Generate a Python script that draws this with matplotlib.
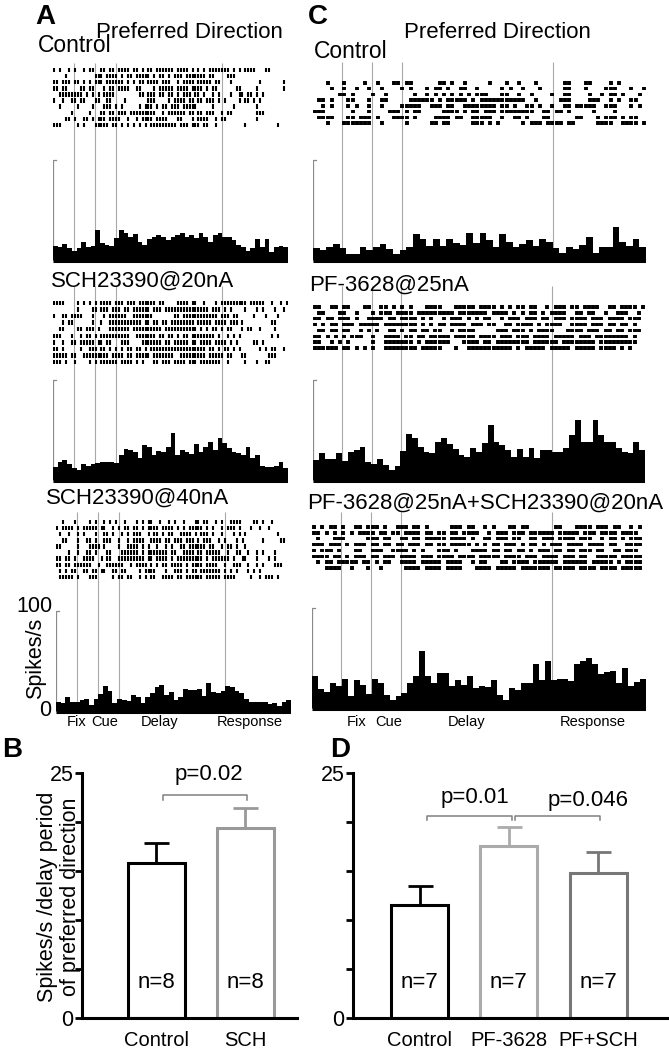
import numpy as np
import matplotlib
matplotlib.use('Agg')
import matplotlib.pyplot as plt

plt.rcParams['font.family'] = ['Liberation Sans', 'DejaVu Sans']

# ---------------- data ----------------
# task events (fraction of the trial time axis): fix, cue, delay, response
events = [0.088, 0.177, 0.266, 0.72]

# raster rows: '|' = spike in that column (80 columns across the trial)
A_top_rows = [
    "|.|..|.|..|.||..||.||.||||.||.|.||.||||||.||||.|.|.|.|||||||.|.|.||||...||.....",
    "....|.........|||.||||.|.||.|||||.|.||.|.|||.|||||||.||....|||..................",
    "||.|||.||.|.|.|||.||||||.|.|.||.||||.|||..|.||||.|||||.||...|.........|.......|",
    "||.||....||.||...|.||.||||..||....|.|||||.||||.||||.|.||......||.....|........|",
    "..||||||||.|.|.|.||||........||.|||.||.||.|.|||.||.|..|.|...|..||.||.|.|.......",
    "|..|..||.||...||..||....|.......|||....|.||||.||.||.|||.|.|....|.||.|.|........",
    "..|.....|....|...|||.|.|.....|.|||.|.||.|||.|||||.....|......|.......|.........",
    "......|.....|...||.||.|||.|||||||||..|.||||||.||.||.|||..|.||........|||.......",
    "....||.|..||.|.|||.||||..|..|.||||.||||...||...|.||||..|.||..........|.........",
    "|||.....|.|...|||||.||.|.|.|.|.|.|||||||||.|||.|||.||..|.........|..........|..",
]
A_mid_rows = [
    "||||....|.|.|.|.||||.|||.|||.||||||.||....||||.||..|...|.|||||||||.|||||..|..|.|",
    "........|....||.|||.|||.||.||||||.|||.|||||||||||||||.|||.|.|....|...|.|...|..|",
    "|..||.||||...|...|.||||||..|||||||.......||.||||||||||||.|||.||.....|...|...|..",
    "...|.||......|..|..|||||||||||.||.||.||.||||||||.|||||.||||.|||.|.........||...",
    "..||....||.|||.|...|||||||.||||||||||.|||||||||||.|.|.||.|.||...|.||..|....|...",
    "|||...|..|.||.|.||||||||||..|||||||.||.||.|.||.||||||||.|..|.|.|..........|.|..",
    "|..|..||.|||||.||.||...|||....|||||||.||.|||||.||.||||.||||.|.|.....||.|.......",
    "||.|.....|..|||.||.|.|.|.||.||.|.|||||||||||||||||||.||.|.||.|.|......|.|.||..|",
    "|||||.||..|||||||||.||||.||.|||||.|||||||..|||||||||.|||||.||...||.......|||...",
    "|||.|..|....|.|.||||||.||||.|.|...||.|||.||||.|||.|||||||..|.....|...|..||.....",
]
A_bot_rows = [
    "..|...|....|.|..|.|.|..|...|.|.||..|..|.|..|...||.||..|.|..||||....||.|..|.....",
    "|.||||.|.|||||.||..|.|.||.||.|.||||.||||.|.|.|||||.|.|..|.|||.|...|..|..|......",
    ".|..|..|.|...|..||.|..|.|.|||..|.||.|.||..||||.|.|||.|..|...|.|.|..........|...",
    "..||...|..||.|..|||..|..|.||||..||||.||.|||.|||.|.|||..|.|...|.|......|.....||.",
    "||.....|...||||.|....|..||||.|.|..|..|.|..||.||||||.||..|.||.|..|..............",
    "....|..|..||.|...||...||||||.|.|||||||.||..||||.||.|||||..|..||..|..|.|...|....",
    "||.||.|..||||..|.||..|||||||||.||.||||.|.|||||||||.|.||||||.|..||...|...|.|....",
    "||.||.||||||..|..||||||..|.||||.|.|.||.||||.|.||||.||||..|..|||..|..|.|...|||..",
    ".|.|.||..||.||.||..||.||....|.||||...|..|||.|.||.|||||||.|.|.|...|.|.|........",
    ".|||||.|...|||.....|.||.||..|.|.||..||||.||.||||||.|||||.||||.....|..|.|||.|...",
]
C_top_rows = [
    "...|...|....|..|...||.||......||.|..|.....|...|..|...|......||...||....|.|......",
    "....|..|..|..|..|....|.|...|.||.|..||..|.....|.|..|...|.....||...|....|||...|..|",
    "......||.|....|..|......|..|.|.|.|.|.|.|||...||..|..|....|..||....|..|.||.|...|.",
    ".||.|...||...|..||.....||||||.|.|||||.|.|||||||||||..|.....|||....|||..|.|..||..",
    "..|.|...|.|..|..|....|||||..|||.||..||||||||.||.|..||.|..|..||.|||||..|||...|.|.",
    "|||......|...|....|||.|.||.....||||.|.||.|||.||||||||..||.||.|.....|....|.......",
    ".||||...||.|||.|...||||.|....||||.||..|||||..|..||.|...||......||...|.|||.|.||..",
    "...|...|||||||..|.....|.....||.||.....|||.|.|.....|.|||.||||.||.....||||..||||.|",
]
C_mid_rows = [
    "||..||.||...||..||.|.|.|...||||...|||||.||||.|.|.||.||..|.|||.||.||||..||.||||.|",
    ".||...||..|...|.|||.||||.|||||||||.|||||||.||||.|.|.||.|.||||..||.||..|..|||..|",
    "||.||.|||.|..||||.||.||||.|.|..|.|||.|.|.||..|.|||.|||.||.|||.||||.|||.||||.|||",
    "|.|.||.|||.|||||.||||||||.|.|.||.||||.|||.||..||.||||.|.||||..||||.|||.||.||.|.",
    ".||.||.||..|.|.|..||.|.||.||.||..|.||||.....|||.|||.|.||||...||||.|||.||.||.|||",
    "||.|.|.|.|||..|..||||.||.||.|||||.|||||.||||.|||.|||.||||.|||||.|||.||||||||.|.",
    "||..|.|.|.....|..|||||||.|.||||||...||||.||.||||||||.||||||.||||||||.|||||||||.",
    "||||||.||.|.|.|..||||||||.|||||...|..|||||||||||.|.|||||.|||||.|||||.||||.|.|.",
]
C_bot_rows = [
    "|.|.||.|..||.|||.|..|||.||.|.....|||.||..|.|...||.||......||...||||.|||.||..|.|.",
    "||.|.|.|.|.||||.||.||.||||.||.||.||.||||..|.|||.|||.||||||.|||||.|||.||||.||||",
    ".|...|||.....|||.||..||.||.|||||.||||.|..||.|||.||..||.|||.||||.|||..|.||.|.|||",
    "|||.|||.|.|||.||.||.||.|||.||.||.|||||.|.|.||.|||.|.||.|.|||.||||.||||.||..||||",
    "|.|||.|...||..|||..||||.|.|...|||.|...||||.||.||.||.|.|||.||.||.|||.||..||.|||.",
    "||||.||.|.|||.||.|||.||||.|||.||||.||||.|||||.||||.|||.||||.|||.||..|||||.|||||",
    ".|.||.|||||.||.|.||..||||.|||||.||||..|.||...||.||||.||||||.||||||.|||||.|.||||.",
    "...||||..|...|..|.....||||.||||.||||...||||.|||||.|||||||.|||||.||||.||||.|||||",
]

# peri-stimulus time histograms (spikes/s)
A_top_rate = [14, 13, 16, 12, 9, 12, 18, 13, 14, 30, 17, 15, 14, 22, 30, 27, 23, 26, 18, 15,
              21, 23, 25, 23, 20, 23, 25, 27, 23, 25, 22, 27, 23, 18, 25, 27, 23, 23, 20, 15,
              13, 9, 12, 21, 13, 21, 8, 13, 14, 13]
A_mid_rate = [13, 18, 20, 16, 12, 10, 16, 14, 16, 17, 18, 18, 18, 17, 25, 31, 30, 28, 22, 35,
              33, 25, 29, 28, 33, 47, 25, 30, 28, 26, 36, 28, 33, 38, 30, 42, 37, 32, 28, 27,
              25, 33, 22, 25, 14, 13, 13, 14, 18, 12]
A_bot_rate = [9, 8, 14, 9, 9, 11, 12, 6, 12, 17, 25, 20, 8, 12, 11, 10, 16, 14, 8, 14,
              18, 24, 26, 16, 19, 11, 14, 22, 21, 21, 22, 15, 28, 19, 18, 20, 25, 24, 20, 18,
              12, 9, 9, 9, 9, 7, 8, 5, 9, 11]
C_top_rate = [12, 10, 13, 16, 12, 6, 6, 13, 10, 13, 16, 11, 6, 10, 13, 26, 21, 14, 21, 14,
              21, 17, 15, 27, 17, 27, 20, 13, 26, 18, 13, 16, 20, 14, 21, 18, 12, 7, 13, 11,
              15, 23, 7, 13, 13, 33, 18, 14, 21, 13]
C_mid_rate = [20, 27, 21, 21, 27, 19, 28, 30, 33, 18, 16, 21, 15, 10, 14, 29, 46, 42, 33, 28,
              27, 38, 42, 36, 31, 25, 23, 32, 28, 37, 55, 38, 35, 30, 23, 31, 23, 32, 22, 30,
              30, 28, 28, 32, 45, 60, 38, 38, 60, 45, 38, 38, 32, 28, 27, 38, 30]
C_bot_rate = [32, 19, 16, 25, 22, 29, 12, 28, 23, 14, 29, 25, 13, 8, 12, 15, 25, 32, 57, 32,
              25, 35, 35, 22, 28, 23, 32, 20, 22, 21, 28, 13, 8, 20, 18, 25, 25, 44, 28, 47,
              28, 29, 29, 27, 44, 47, 50, 44, 34, 36, 37, 25, 40, 22, 26, 29]

# delay-period firing (panel B and D)
B_labels = ['Control', 'SCH']
B_means = [15.8, 19.4]
B_sems = [2.1, 2.0]
B_n = [8, 8]
D_labels = ['Control', 'PF-3628', 'PF+SCH']
D_means = [11.5, 17.6, 14.8]
D_sems = [2.0, 1.9, 2.1]
D_n = [7, 7, 7]

# ---------------- figure ----------------
W, H = 669, 1050
fig = plt.figure(figsize=(W / 100, H / 100), dpi=100)


def box(left, top, right, bottom):
    # pixel box -> figure fraction
    return [left / W, 1 - bottom / H, (right - left) / W, (bottom - top) / H]


def put(x, y, s, **kw):
    fig.text(x / W, 1 - y / H, s, **kw)


def psth_panel(left, right, base, top, r_top, r_bot, rows, rate, tick_w, tick_h):
    ax = fig.add_axes(box(left, top, right, base + 4))
    ax.set_xlim(0, 1)
    ax.set_ylim(-4, base - top)
    ax.axis('off')
    # event markers
    ax.vlines(events, 0, base - top, color='#a8a8a8', lw=0.8, zorder=1)
    # raster
    n = len(rows)
    for i, row in enumerate(rows):
        y = base - (r_top + i * (r_bot - r_top) / (n - 1))
        xs = [(j + 0.5) / 80 for j, ch in enumerate(row) if ch == '|']
        ax.vlines(xs, y - tick_h / 2, y + tick_h / 2, color='black', lw=tick_w, zorder=2)
    # histogram
    edges = np.linspace(0, 1, len(rate) + 1)
    ax.stairs(rate, edges, fill=True, color='black', zorder=2)
    ax.plot([0, 1], [-1.2, -1.2], color='black', lw=2.2, solid_capstyle='butt', zorder=3)
    # scale bar (100 spikes/s)
    dx = 3 / (right - left)
    ax.plot([0, 0, dx], [0, 100, 100], color='#8a8a8a', lw=0.9, zorder=1)
    return ax


# panel A
psth_panel(53, 288, 260, 63, 70, 125, A_top_rows, A_top_rate, 1.5, 4.5)
psth_panel(53, 288, 480, 286, 303, 362, A_mid_rows, A_mid_rate, 1.5, 4.5)
psth_panel(56, 291, 711, 512, 522, 577, A_bot_rows, A_bot_rate, 1.5, 4.5)
# panel C
psth_panel(313, 646, 260, 62, 83, 123, C_top_rows, C_top_rate, 2.8, 3.5)
psth_panel(313, 645, 480, 286, 307, 348, C_mid_rows, C_mid_rate, 2.8, 3.5)
psth_panel(312, 646, 708, 512, 527, 568, C_bot_rows, C_bot_rate, 2.8, 3.5)

# texts of A / C
put(45, 17, 'A', fontsize=20, fontweight='bold', ha='center', va='center')
put(318, 17, 'C', fontsize=20, fontweight='bold', ha='center', va='center')
put(189, 32, 'Preferred Direction', fontsize=16, ha='center', va='center')
put(497, 32, 'Preferred Direction', fontsize=16, ha='center', va='center')
put(38, 46, 'Control', fontsize=16.5, ha='left', va='center')
put(314, 52, 'Control', fontsize=16.5, ha='left', va='center')
put(51, 281, 'SCH23390@20nA', fontsize=16, ha='left', va='center')
put(46, 498, 'SCH23390@40nA', fontsize=16, ha='left', va='center')
put(309, 285, 'PF-3628@25nA', fontsize=16, ha='left', va='center')
put(307, 503, 'PF-3628@25nA+SCH23390@20nA', fontsize=16, ha='left', va='center')

put(36, 658, 'Spikes/s', fontsize=15.5, rotation=90, ha='center', va='center')
put(53, 607, '100', fontsize=15.5, ha='right', va='center')
put(51, 710, '0', fontsize=15.5, ha='right', va='center')

for x, s in zip([77, 105, 160, 250], ['Fix', 'Cue', 'Delay', 'Response']):
    put(x, 722, s, fontsize=10.5, ha='center', va='center')
for x, s in zip([357, 389, 467, 593], ['Fix', 'Cue', 'Delay', 'Response']):
    put(x, 722, s, fontsize=10.5, ha='center', va='center')


# bar charts
def bar_panel(rect, xlim, labels, means, sems, colors, ns):
    ax = fig.add_axes(box(*rect))
    x = np.arange(len(means))
    for xi, m, s, c, n in zip(x, means, sems, colors, ns):
        ax.bar(xi, m, width=0.64, facecolor='white', edgecolor=c, linewidth=2.2, zorder=2)
        ax.errorbar(xi, m, yerr=[[0], [s]], fmt='none', ecolor=c, elinewidth=2.0,
                    capsize=9, capthick=2.0, zorder=1)
        ax.text(xi, 3.6, f'n={n}', fontsize=16, ha='center', va='center')
    ax.set_xlim(*xlim)
    ax.set_ylim(0, 25)
    ax.set_yticks(range(0, 26, 5))
    ax.set_yticklabels(['0', '', '', '', '', '25'])
    ax.set_xticks(x)
    ax.set_xticklabels(labels)
    ax.tick_params(axis='y', direction='out', length=5, width=2, labelsize=15.5, pad=1)
    ax.tick_params(axis='x', length=0, labelsize=14.5, pad=9)
    for side in ['top', 'right']:
        ax.spines[side].set_visible(False)
    for side in ['left', 'bottom']:
        ax.spines[side].set_linewidth(2.2)
    return ax


def bracket(ax, x0, x1, y, h, text, tx, ty):
    ax.plot([x0, x0, x1, x1], [y - h, y, y, y - h], color='#808080', lw=1.1, clip_on=False)
    ax.text(tx, ty, text, fontsize=16, ha='center', va='center')


axB = bar_panel((82, 773, 297, 1018), (-0.837, 1.58), B_labels, B_means, B_sems,
                ['black', '#999999'], B_n)
bracket(axB, 0.07, 1.02, 22.75, 0.5, 'p=0.02', 0.59, 24.8)

axD = bar_panel((353, 773, 667, 1018), (-0.745, 2.77), D_labels, D_means, D_sems,
                ['black', '#ababab', '#777777'], D_n)
bracket(axD, 0.08, 1.04, 20.6, 0.4, 'p=0.01', 0.62, 22.55)
bracket(axD, 1.07, 2.02, 20.6, 0.4, 'p=0.046', 1.89, 22.2)

put(12, 750, 'B', fontsize=20, fontweight='bold', ha='center', va='center')
put(340, 750, 'D', fontsize=20, fontweight='bold', ha='center', va='center')
put(59, 897, 'Spikes/s /delay period\nof preferred direction', fontsize=15.5,
    rotation=90, ha='center', va='center', linespacing=1.1)

plt.savefig('out.png', dpi=100)
